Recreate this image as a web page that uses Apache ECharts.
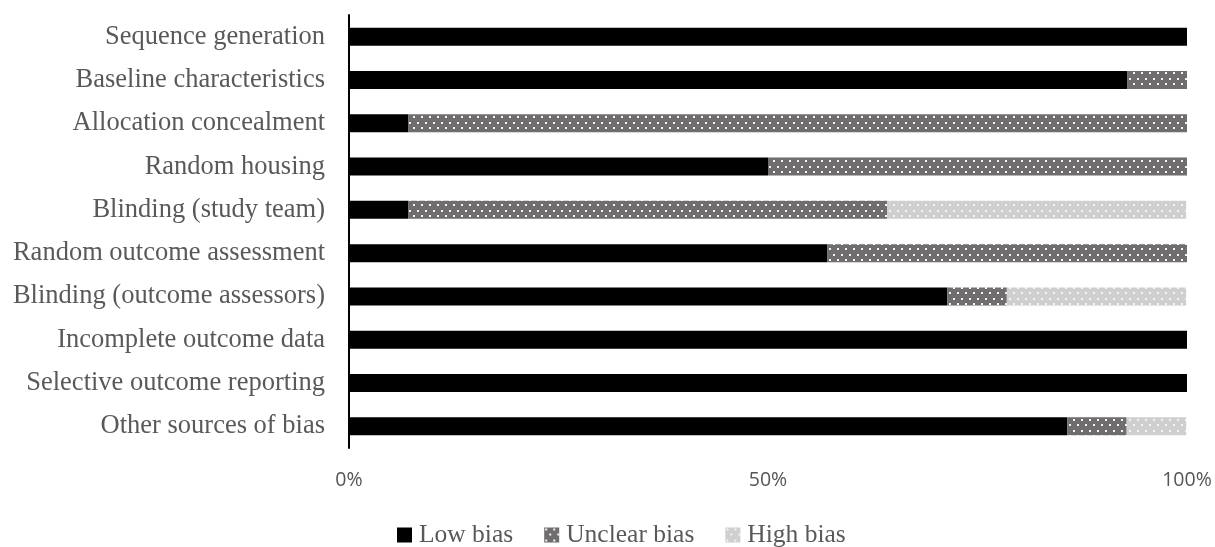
<!DOCTYPE html>
<html>
<head>
<meta charset="utf-8">
<script src="https://cdn.jsdelivr.net/npm/echarts@6/dist/echarts.min.js"></script>
<style>
html,body{margin:0;padding:0;background:#fff;}
#chart{width:1215px;height:547px;}
</style>
</head>
<body>
<div id="chart"></div>
<script>
var categories = ["Sequence generation","Baseline characteristics","Allocation concealment","Random housing","Blinding (study team)","Random outcome assessment","Blinding (outcome assessors)","Incomplete outcome data","Selective outcome reporting","Other sources of bias"];
var lowBias = [100, 92.9, 7.1, 50, 7.1, 57.1, 71.4, 100, 100, 85.7];
var unclearBias = [0, 7.1, 92.9, 50, 57.1, 42.9, 7.1, 0, 0, 7.1];
var highBias = [0, 0, 0, 0, 35.7, 0, 21.4, 0, 0, 7.1];
var seriesNames = ["Low bias","Unclear bias","High bias"];

function makePattern(base){
  var c = document.createElement('canvas');
  c.width = 8; c.height = 11;
  var ctx = c.getContext('2d');
  ctx.fillStyle = base; ctx.fillRect(0,0,8,11);
  ctx.fillStyle = '#f4f4f4';
  ctx.fillRect(1,1,2,2);
  ctx.fillRect(5,6,2,2);
  return {image:c, repeat:'repeat'};
}
var unclearPat = makePattern('#6f6d6d');
var highPat = makePattern('#d0cfcf');

var chart = echarts.init(document.getElementById('chart'), null, {renderer:'canvas'});
var serifFont = '"Liberation Serif", serif';
chart.setOption({
  animation:false,
  backgroundColor:'#ffffff',
  grid:{left:349, right:28, top:15, bottom:99, containLabel:false},
  legend:{
    data:[
      {name:seriesNames[0], itemStyle:{color:'#000000'}},
      {name:seriesNames[1], itemStyle:{color:unclearPat}},
      {name:seriesNames[2], itemStyle:{color:highPat}}
    ],
    left:397, top:522, padding:0, icon:'rect', itemWidth:15, itemHeight:15, itemGap:31,
    textStyle:{fontFamily:serifFont, fontSize:25.5, color:'#595959', padding:[0,0,0,2]}
  },
  xAxis:{
    type:'value', min:0, max:100, interval:50,
    axisLine:{show:false}, axisTick:{show:false}, splitLine:{show:false},
    axisLabel:{formatter:'{value}%', fontFamily:'"Open Sans", sans-serif', fontSize:19.5, color:'#555555', margin:22}
  },
  yAxis:{
    type:'category', data:categories, inverse:true,
    axisLine:{show:true, lineStyle:{color:'#000000', width:2}},
    axisTick:{show:false},
    axisLabel:{fontFamily:serifFont, fontSize:26.5, color:'#595959', margin:24}
  },
  series:[
    {name:seriesNames[0], type:'bar', stack:'a', data:lowBias, barWidth:18, itemStyle:{color:'#000000'}},
    {name:seriesNames[1], type:'bar', stack:'a', data:unclearBias, barWidth:18, itemStyle:{color:unclearPat}},
    {name:seriesNames[2], type:'bar', stack:'a', data:highBias, barWidth:18, itemStyle:{color:highPat}}
  ]
});
</script>
</body>
</html>
